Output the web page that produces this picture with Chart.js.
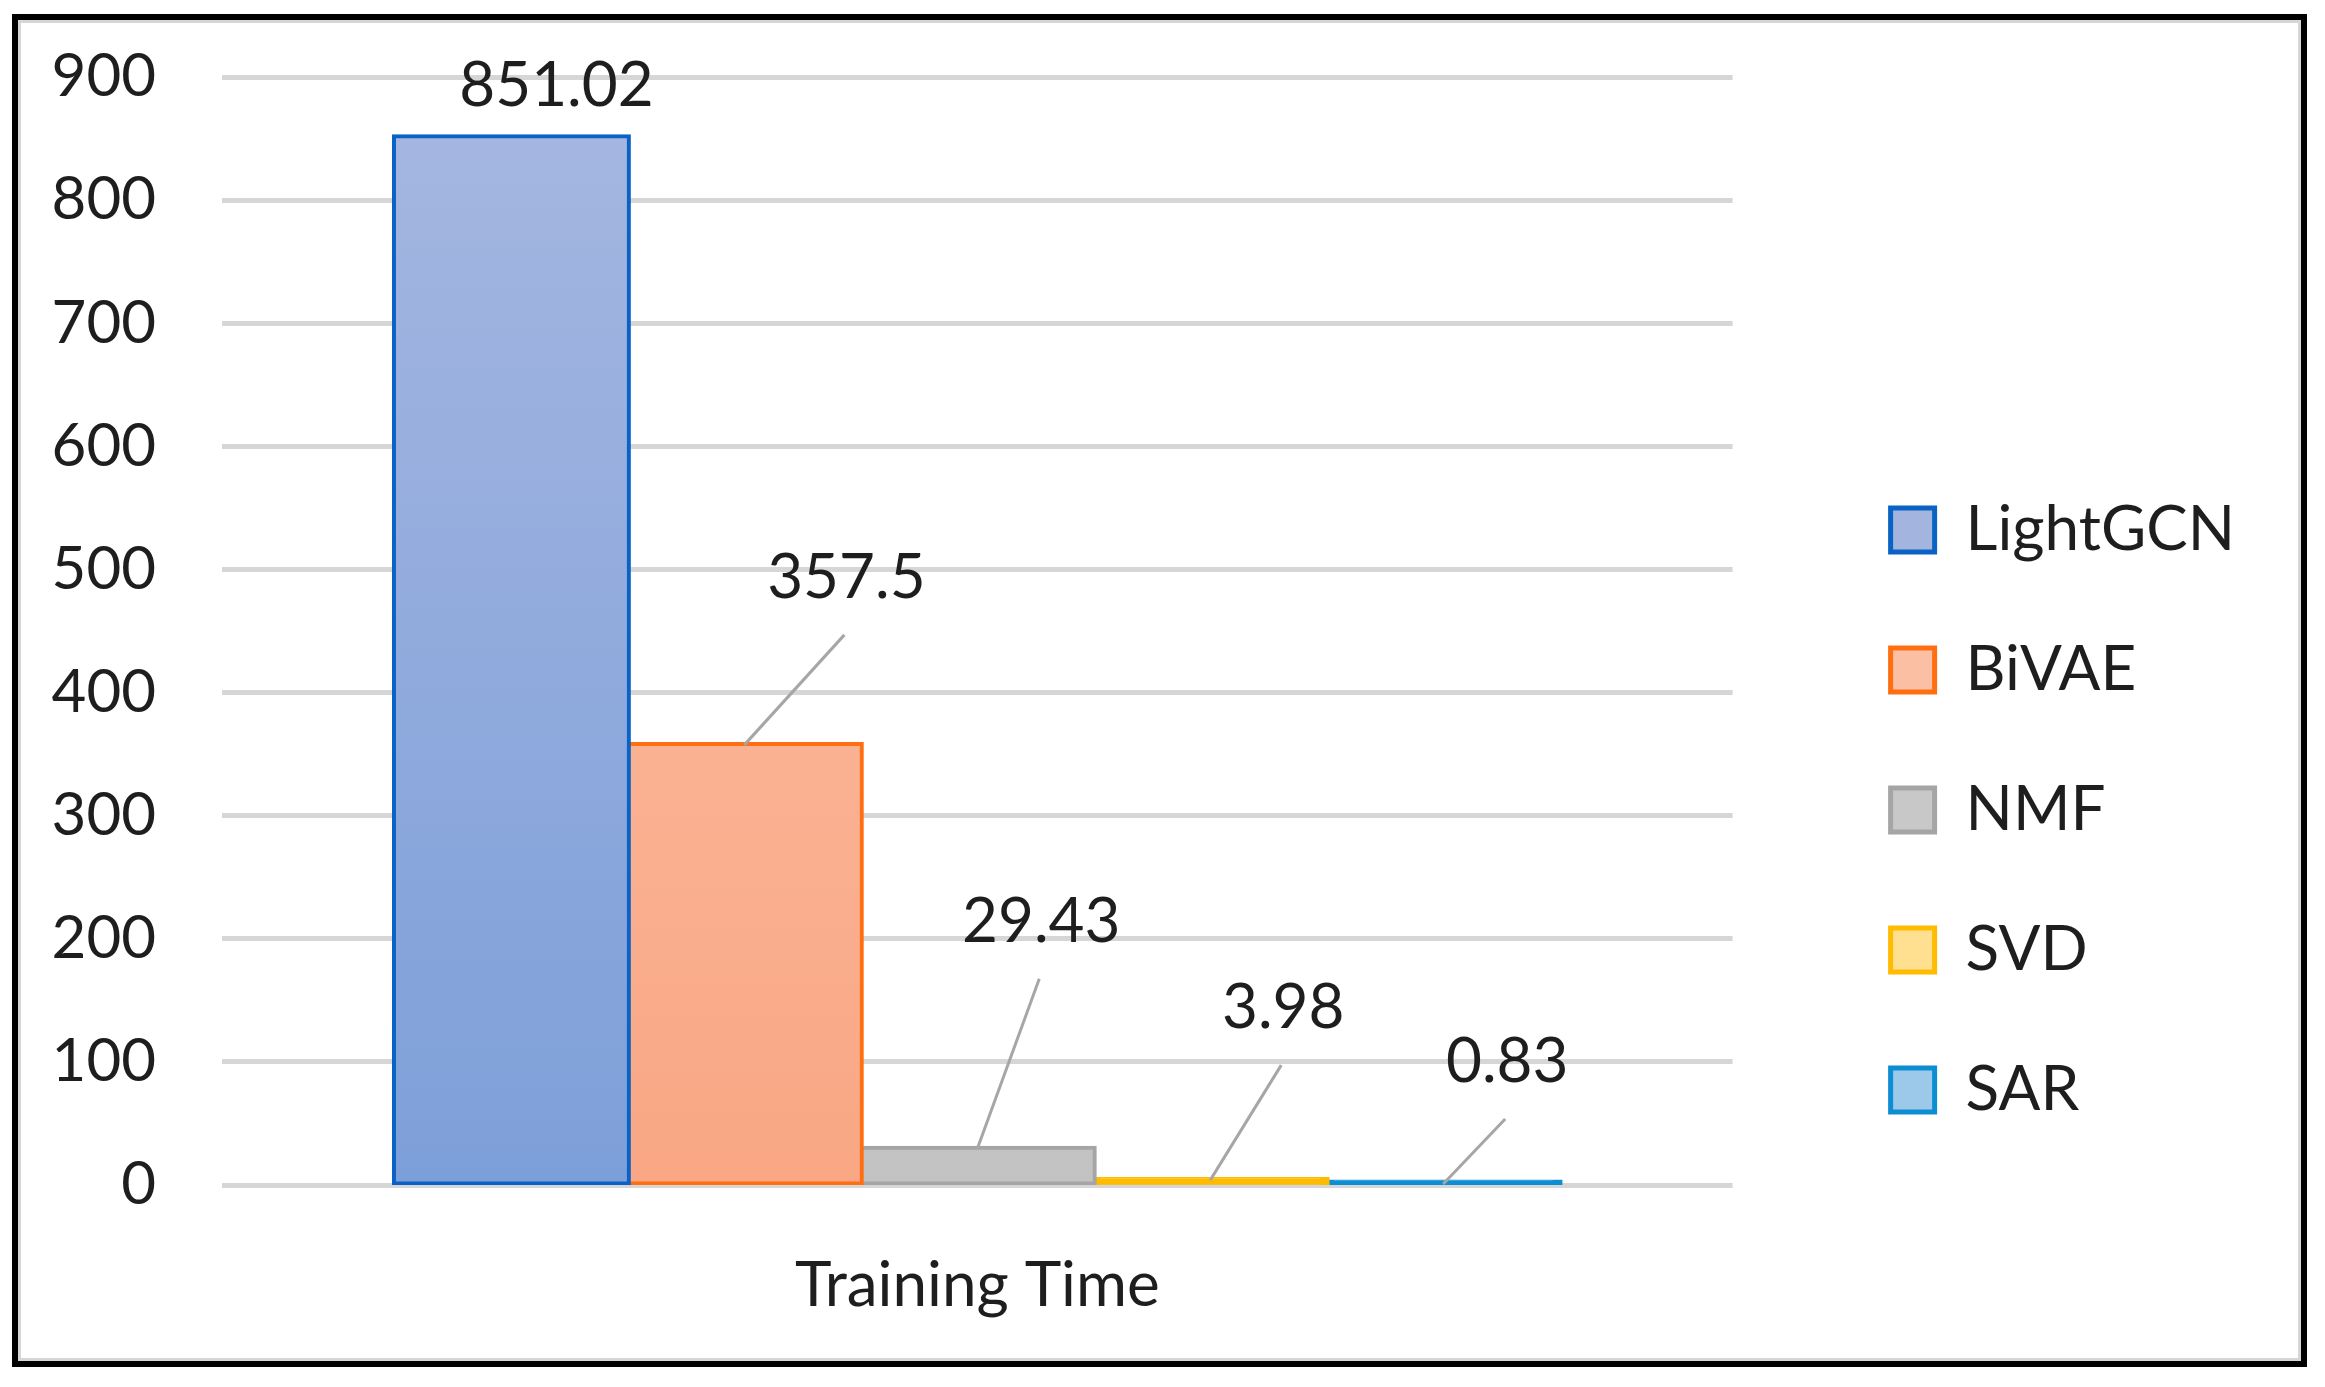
<!DOCTYPE html>
<html>
<head>
<meta charset="utf-8">
<script src="https://cdn.jsdelivr.net/npm/chart.js@4.4.1/dist/chart.umd.min.js"></script>
<style>
    html, body { margin: 0; padding: 0; background: #ffffff; overflow: hidden; }
    #wrap { position: relative; width: 2325px; height: 1387px; }
    #frame {
        position: absolute; left: 12px; top: 14px; width: 2283px; height: 1341px;
        border: 6px solid #000; box-shadow: inset 0 0 0 3px #d6d6d6; pointer-events: none;
    }
    #chart { position: absolute; left: 0; top: 0; }
</style>
</head>
<body>
<div id="wrap">
    <canvas id="chart" width="2325" height="1387"></canvas>
    <div id="frame"></div>
</div>
<script>
// dados
const categorias = ["Training Time"];
const modelos = ["LightGCN", "BiVAE", "NMF", "SVD", "SAR"];
const tempos = [851.02, 357.5, 29.43, 3.98, 0.83];
const ticksY = [0, 100, 200, 300, 400, 500, 600, 700, 800, 900];

// estilos
const bordas = ["#0a63c4", "#ff6f12", "#a5a5a5", "#ffbb00", "#0d8ed2"];
const topoCor = ["#a6b7e1", "#fcc2a8", "#cbcbcb", "#ffbb00", "#0d8ed2"];
const baseCor = ["#7d9fd9", "#f9a784", "#c2c2c2", "#ffbb00", "#0d8ed2"];
const legendaCor = ["#a3b4de", "#fbbfa4", "#c8c8c8", "#ffdf90", "#9cc8ea"];
// deslocamento dos rótulos em relação ao topo da barra
const rotuloDx = [45, 102, 64, 73, 64];
const rotuloDy = [-51, -167, -227, -172, -122];
const temLinha = [false, true, true, true, true];

const FONTE = "Lato, 'Open Sans', sans-serif";
const COR_TEXTO = "#1e1e1e";

function gradiente(ctx, i) {
    const area = ctx.chart.chartArea;
    if (!area) return baseCor[i];
    const g = ctx.chart.ctx.createLinearGradient(0, area.top, 0, area.bottom);
    g.addColorStop(0, topoCor[i]);
    g.addColorStop(1, baseCor[i]);
    return g;
}

const rotulosPlugin = {
    id: "rotulos",
    afterDatasetsDraw(chart) {
        const ctx = chart.ctx;
        ctx.save();
        chart.data.datasets.forEach((ds, i) => {
            const barra = chart.getDatasetMeta(i).data[0];
            const lx = barra.x + rotuloDx[i];
            const ly = barra.y + rotuloDy[i];
            if (temLinha[i]) {
                ctx.strokeStyle = "#a6a6a6";
                ctx.lineWidth = 3;
                ctx.beginPath();
                ctx.moveTo(barra.x, barra.y);
                ctx.lineTo(lx - 2, ly + 57);
                ctx.stroke();
            }
            ctx.fillStyle = COR_TEXTO;
            ctx.font = "62px " + FONTE;
            ctx.textAlign = "center";
            ctx.textBaseline = "middle";
            ctx.fillText(String(ds.data[0]), lx, ly);
        });
        ctx.restore();
    }
};

new Chart(document.getElementById("chart"), {
    type: "bar",
    data: {
        labels: categorias,
        datasets: modelos.map((nome, i) => ({
            label: nome,
            data: [tempos[i]],
            backgroundColor: ctx => gradiente(ctx, i),
            borderColor: bordas[i],
            borderWidth: 4,
            borderSkipped: false,
            inflateAmount: 3,
            categoryPercentage: 0.771,
            barPercentage: 1
        }))
    },
    options: {
        responsive: false,
        animation: false,
        layout: {
            padding: { left: 0, top: 77, right: 80, bottom: 52 }
        },
        plugins: {
            tooltip: { enabled: false },
            legend: {
                position: "right",
                align: "center",
                maxWidth: 700,
                title: {
                    display: true,
                    text: " ",
                    font: { size: 10, lineHeight: 1 },
                    padding: { top: 99, bottom: 99 }
                },
                labels: {
                    font: { family: FONTE, size: 62 },
                    color: COR_TEXTO,
                    boxWidth: 44,
                    boxHeight: 44,
                    padding: 78,
                    generateLabels: chart => modelos.map((nome, i) => ({
                        text: nome,
                        fillStyle: legendaCor[i],
                        strokeStyle: bordas[i],
                        fontColor: COR_TEXTO,
                        lineWidth: 5,
                        datasetIndex: i,
                        hidden: false
                    }))
                }
            }
        },
        scales: {
            x: {
                grid: { display: false },
                border: { display: false },
                ticks: {
                    font: { family: FONTE, size: 62 },
                    color: COR_TEXTO,
                    padding: 56,
                    maxRotation: 0
                },
                afterFit: s => { s.height = 150; }
            },
            y: {
                min: 0,
                max: 900,
                afterBuildTicks: s => { s.ticks = ticksY.map(v => ({ value: v })); },
                grid: { color: "#d6d6d6", lineWidth: 5, drawTicks: false },
                border: { display: false },
                ticks: {
                    font: { family: FONTE, size: 60 },
                    color: COR_TEXTO,
                    padding: 66
                },
                afterFit: s => {
                    s.width = 222;
                    s.paddingTop = 0;
                    s.paddingBottom = 0;
                }
            },
            espaco: {
                position: "right",
                grid: { display: false },
                border: { display: false },
                ticks: { display: false },
                afterFit: s => { s.width = 80; }
            }
        }
    },
    plugins: [rotulosPlugin]
});
</script>
</body>
</html>
